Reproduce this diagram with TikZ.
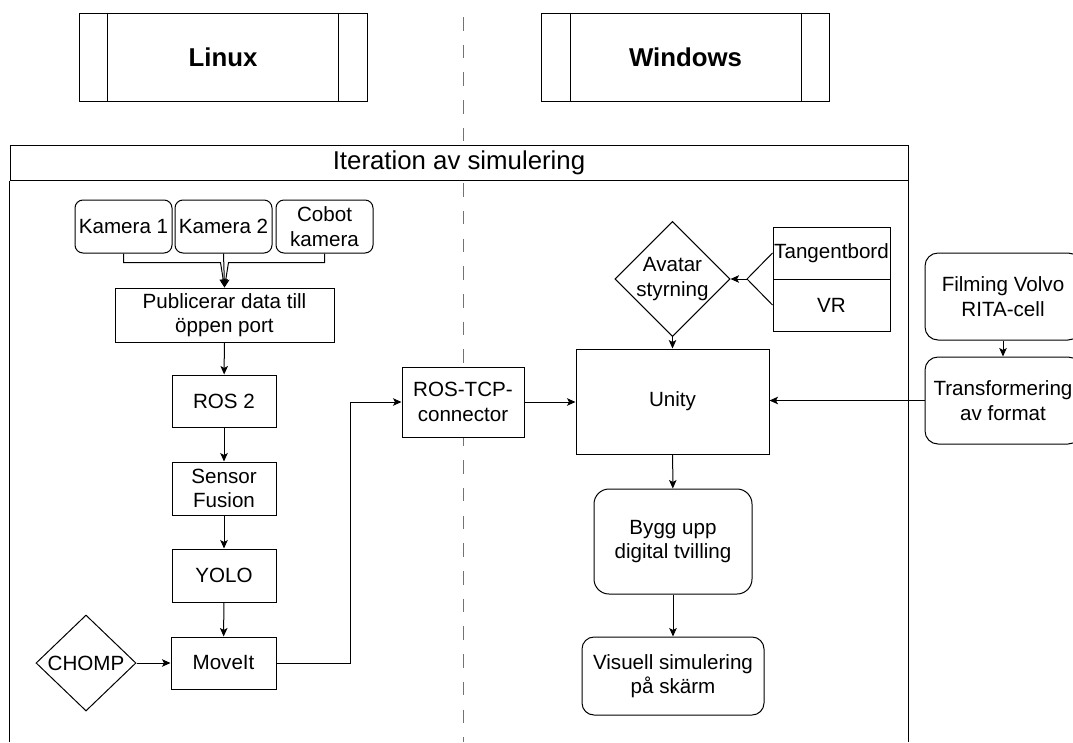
\documentclass[tikz,border=0pt]{standalone}
\usepackage{fontspec}
\setmainfont{Liberation Sans}
\usepackage{tikz}
\usetikzlibrary{arrows.meta, positioning, shapes.geometric}

\newcommand{\bodyfont}{\fontsize{20.6}{24.5}\selectfont}
\newcommand{\headfont}{\fontsize{25.8}{30}\selectfont}

\tikzset{
	box/.style={draw, fill=white, inner sep=0pt, align=center, font=\bodyfont},
	rbox/.style={box, rounded corners=#1},
	decision/.style={box, diamond},
	oskind/.style={box, minimum width=288, minimum height=88, font=\headfont\bfseries},
	divider/.style={draw=black!55, dash pattern=on 13.5pt off 14.2pt},
	wire/.style={-{Stealth[length=8.5pt, width=7.5pt, inset=2pt]}}
}

\begin{document}
\begin{tikzpicture}[x=1pt, y=-1pt, line width=1pt]
			\useasboundingbox (0, 0) rectangle (1073, 742);
			\clip (0, 0) rectangle (1073, 742);
			% Paths, nodes and wires:
			\draw[divider] (463, 17) -- (463, 742);
			\node[oskind](linux) at (223, 57){Linux};
			\draw ([xshift=29pt]linux.north west) -- ([xshift=29pt]linux.south west);
			\draw ([xshift=-29pt]linux.north east) -- ([xshift=-29pt]linux.south east);
			\node[oskind](windows) at (685.5, 57){Windows};
			\draw ([xshift=29pt]windows.north west) -- ([xshift=29pt]windows.south west);
			\draw ([xshift=-29pt]windows.north east) -- ([xshift=-29pt]windows.south east);
			\node[box, minimum width=898, minimum height=35, font=\headfont](title) at (459, 162.5){Iteration av simulering};
			\draw (title.south west) -- (title.south west |- 0, 742);
			\draw (title.south east) -- (title.south east |- 0, 742);
			% Linux side
			\node[rbox=8, minimum width=97, minimum height=53](kam1) at (123.5, 226.5){Kamera 1};
			\node[rbox=8, minimum width=97, minimum height=53](kam2) at (223.5, 226.5){Kamera 2};
			\node[rbox=8, minimum width=97, minimum height=53](cobot) at (324.5, 226.5){Cobot\\kamera};
			\node[box, minimum width=219, minimum height=54](pub) at (224.5, 315){Publicerar data till\\öppen port};
			\node[box, minimum width=104, minimum height=52](ros) at (224, 401){ROS 2};
			\node[box, minimum width=104, minimum height=53](fusion) at (224, 488.5){Sensor\\Fusion};
			\node[box, minimum width=104, minimum height=53](yolo) at (224, 575.5){YOLO};
			\node[box, minimum width=105, minimum height=52](moveit) at (223.5, 663){MoveIt};
			\node[decision, minimum width=100, minimum height=96](chomp) at (86, 663){CHOMP};
			\node[box, minimum width=122, minimum height=70](tcp) at (463, 402){ROS-TCP-\\connector};
			\draw[wire] (kam1.south) |- ++(97, 9) -- (pub.north);
			\draw[wire] (cobot.south) |- ++(-96, 9) -- (pub.north);
			\draw[wire] (kam2.south) -- (pub.north);
			\draw[wire] (pub) -- (ros);
			\draw[wire] (ros) -- (fusion);
			\draw[wire] (fusion) -- (yolo);
			\draw[wire] (yolo) -- (moveit);
			\draw[wire] (chomp) -- (moveit);
			\draw[wire] (moveit.east) -- ++(74, 0) |- (tcp.west);
			% Windows side
			\node[box, minimum width=193, minimum height=105](unity) at (672.5, 401.5){Unity};
			\node[decision, minimum width=113, minimum height=104](avatar) at (672.5, 279){Avatar\\styrning};
			\node[box, minimum width=117, minimum height=52](tangent) at (831.5, 253){Tangentbord};
			\node[box, minimum width=117, minimum height=52](vr) at (831.5, 305){VR};
			\coordinate (split) at (747, 279);
			\node[rbox=13, minimum width=156, minimum height=87](film) at (1003, 296.5){Filming Volvo\\RITA-cell};
			\node[rbox=13, minimum width=156, minimum height=87](trans) at (1003, 400.5){Transformering\\av format};
			\node[rbox=15, minimum width=158, minimum height=105](bygg) at (673, 541.5){Bygg upp\\digital tvilling};
			\node[rbox=12, minimum width=182, minimum height=78](visuell) at (673, 676){Visuell simulering\\på skärm};
			\draw (tangent.west) -- (split);
			\draw (vr.west) -- (split);
			\draw[wire] (split) -- (avatar.east);
			\draw[wire] (avatar) -- (unity);
			\draw[wire] (tcp.east) -- (tcp.east -| unity.west);
			\draw[wire] (film) -- (trans);
			\draw[wire] (trans.west) -- (trans.west -| unity.east);
			\draw[wire] (unity) -- (bygg);
			\draw[wire] (bygg) -- (visuell);
		\end{tikzpicture}
\end{document}
